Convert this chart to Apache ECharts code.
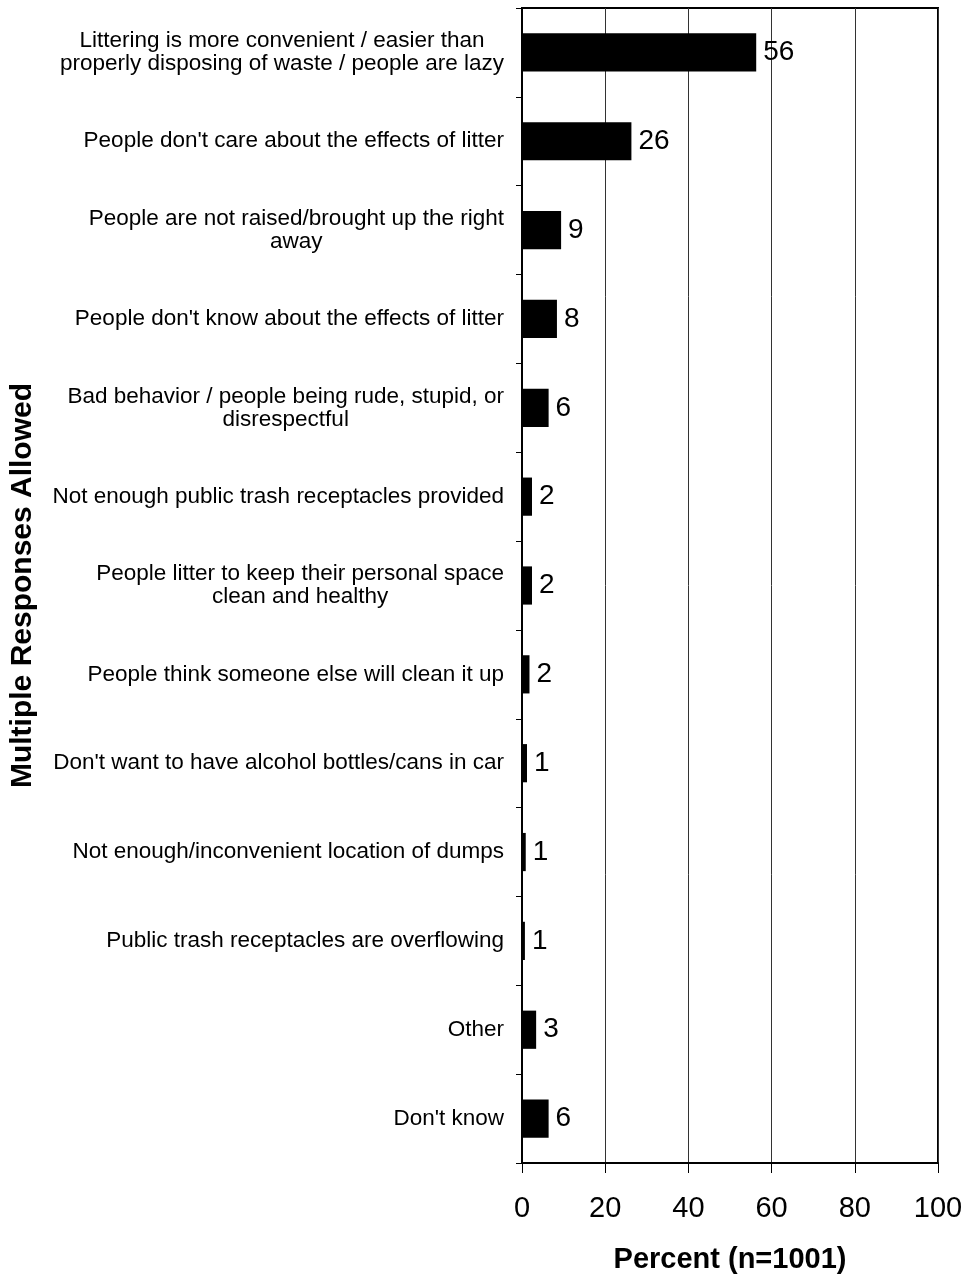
<!DOCTYPE html>
<html>
<head>
<meta charset="utf-8">
<script src="https://cdn.jsdelivr.net/npm/echarts@6/dist/echarts.min.js"></script>
<style>
html,body{margin:0;padding:0;background:#fff;}
#chart{width:967px;height:1277px;}
</style>
</head>
<body>
<div id="chart"></div>
<script>
const categories = [
  "Littering is more convenient / easier than\nproperly disposing of waste / people are lazy",
  "People don't care about the effects of litter",
  "People are not raised/brought up the right\naway",
  "People don't know about the effects of litter",
  "Bad behavior / people being rude, stupid, or\ndisrespectful",
  "Not enough public trash receptacles provided",
  "People litter to keep their personal space\nclean and healthy",
  "People think someone else will clean it up",
  "Don't want to have alcohol bottles/cans in car",
  "Not enough/inconvenient location of dumps",
  "Public trash receptacles are overflowing",
  "Other",
  "Don't know"
];
const percentValues = [56.3, 26.3, 9.4, 8.4, 6.4, 2.4, 2.4, 1.8, 1.2, 0.9, 0.7, 3.4, 6.4];
const xTicks = [0, 20, 40, 60, 80, 100];
const xTitle = "Percent (n=1001)";
const yTitle = "Multiple Responses Allowed";

const FONT = "'Liberation Sans', Arial, sans-serif";
const chart = echarts.init(document.getElementById('chart'), null, {renderer: 'canvas'});
chart.setOption({
  animation: false,
  backgroundColor: '#fff',
  textStyle: {fontFamily: FONT, color: '#000'},
  grid: {left: 522, right: 29, top: 8, bottom: 114, containLabel: false, outerBoundsMode: 'none',
         show: true, borderColor: '#000', borderWidth: 2, backgroundColor: 'transparent'},
  xAxis: {
    type: 'value', min: xTicks[0], max: xTicks[xTicks.length - 1], interval: 20,
    position: 'bottom',
    name: xTitle, nameLocation: 'middle', nameGap: 82,
    nameTextStyle: {fontFamily: FONT, fontSize: 29, fontWeight: 'bold', color: '#000'},
    axisLine: {show: true, lineStyle: {color: '#000', width: 2}},
    axisTick: {show: true, inside: false, length: 10, lineStyle: {color: '#000', width: 1}},
    axisLabel: {fontFamily: FONT, fontSize: 29, color: '#000', margin: 31},
    splitLine: {show: true, lineStyle: {color: '#333', width: 1}}
  },
  yAxis: {
    type: 'category', data: categories, inverse: true,
    name: yTitle, nameLocation: 'middle', nameGap: 484, nameRotate: 90,
    nameTextStyle: {fontFamily: FONT, fontSize: 30, fontWeight: 'bold', color: '#000'},
    axisLine: {show: true, lineStyle: {color: '#000', width: 2}},
    axisTick: {show: true, inside: false, length: 6, alignWithLabel: false, lineStyle: {color: '#000', width: 1}},
    axisLabel: {
      fontFamily: FONT, fontSize: 22.5, color: '#000', margin: 18, align: 'right', lineHeight: 23, interval: 0,
      formatter: v => v.split('\n').map(l => '{c|' + l + '}').join('\n'),
      rich: {c: {align: 'center', fontFamily: FONT, fontSize: 22.5, lineHeight: 23, color: '#000'}}
    },
    splitLine: {show: false}
  },
  series: [{
    type: 'bar', data: percentValues, barWidth: '43%',
    itemStyle: {color: '#000'},
    label: {show: true, position: 'right', distance: 7, fontFamily: FONT, fontSize: 28, color: '#000',
            formatter: p => String(Math.round(p.value))}
  }]
});
</script>
</body>
</html>
